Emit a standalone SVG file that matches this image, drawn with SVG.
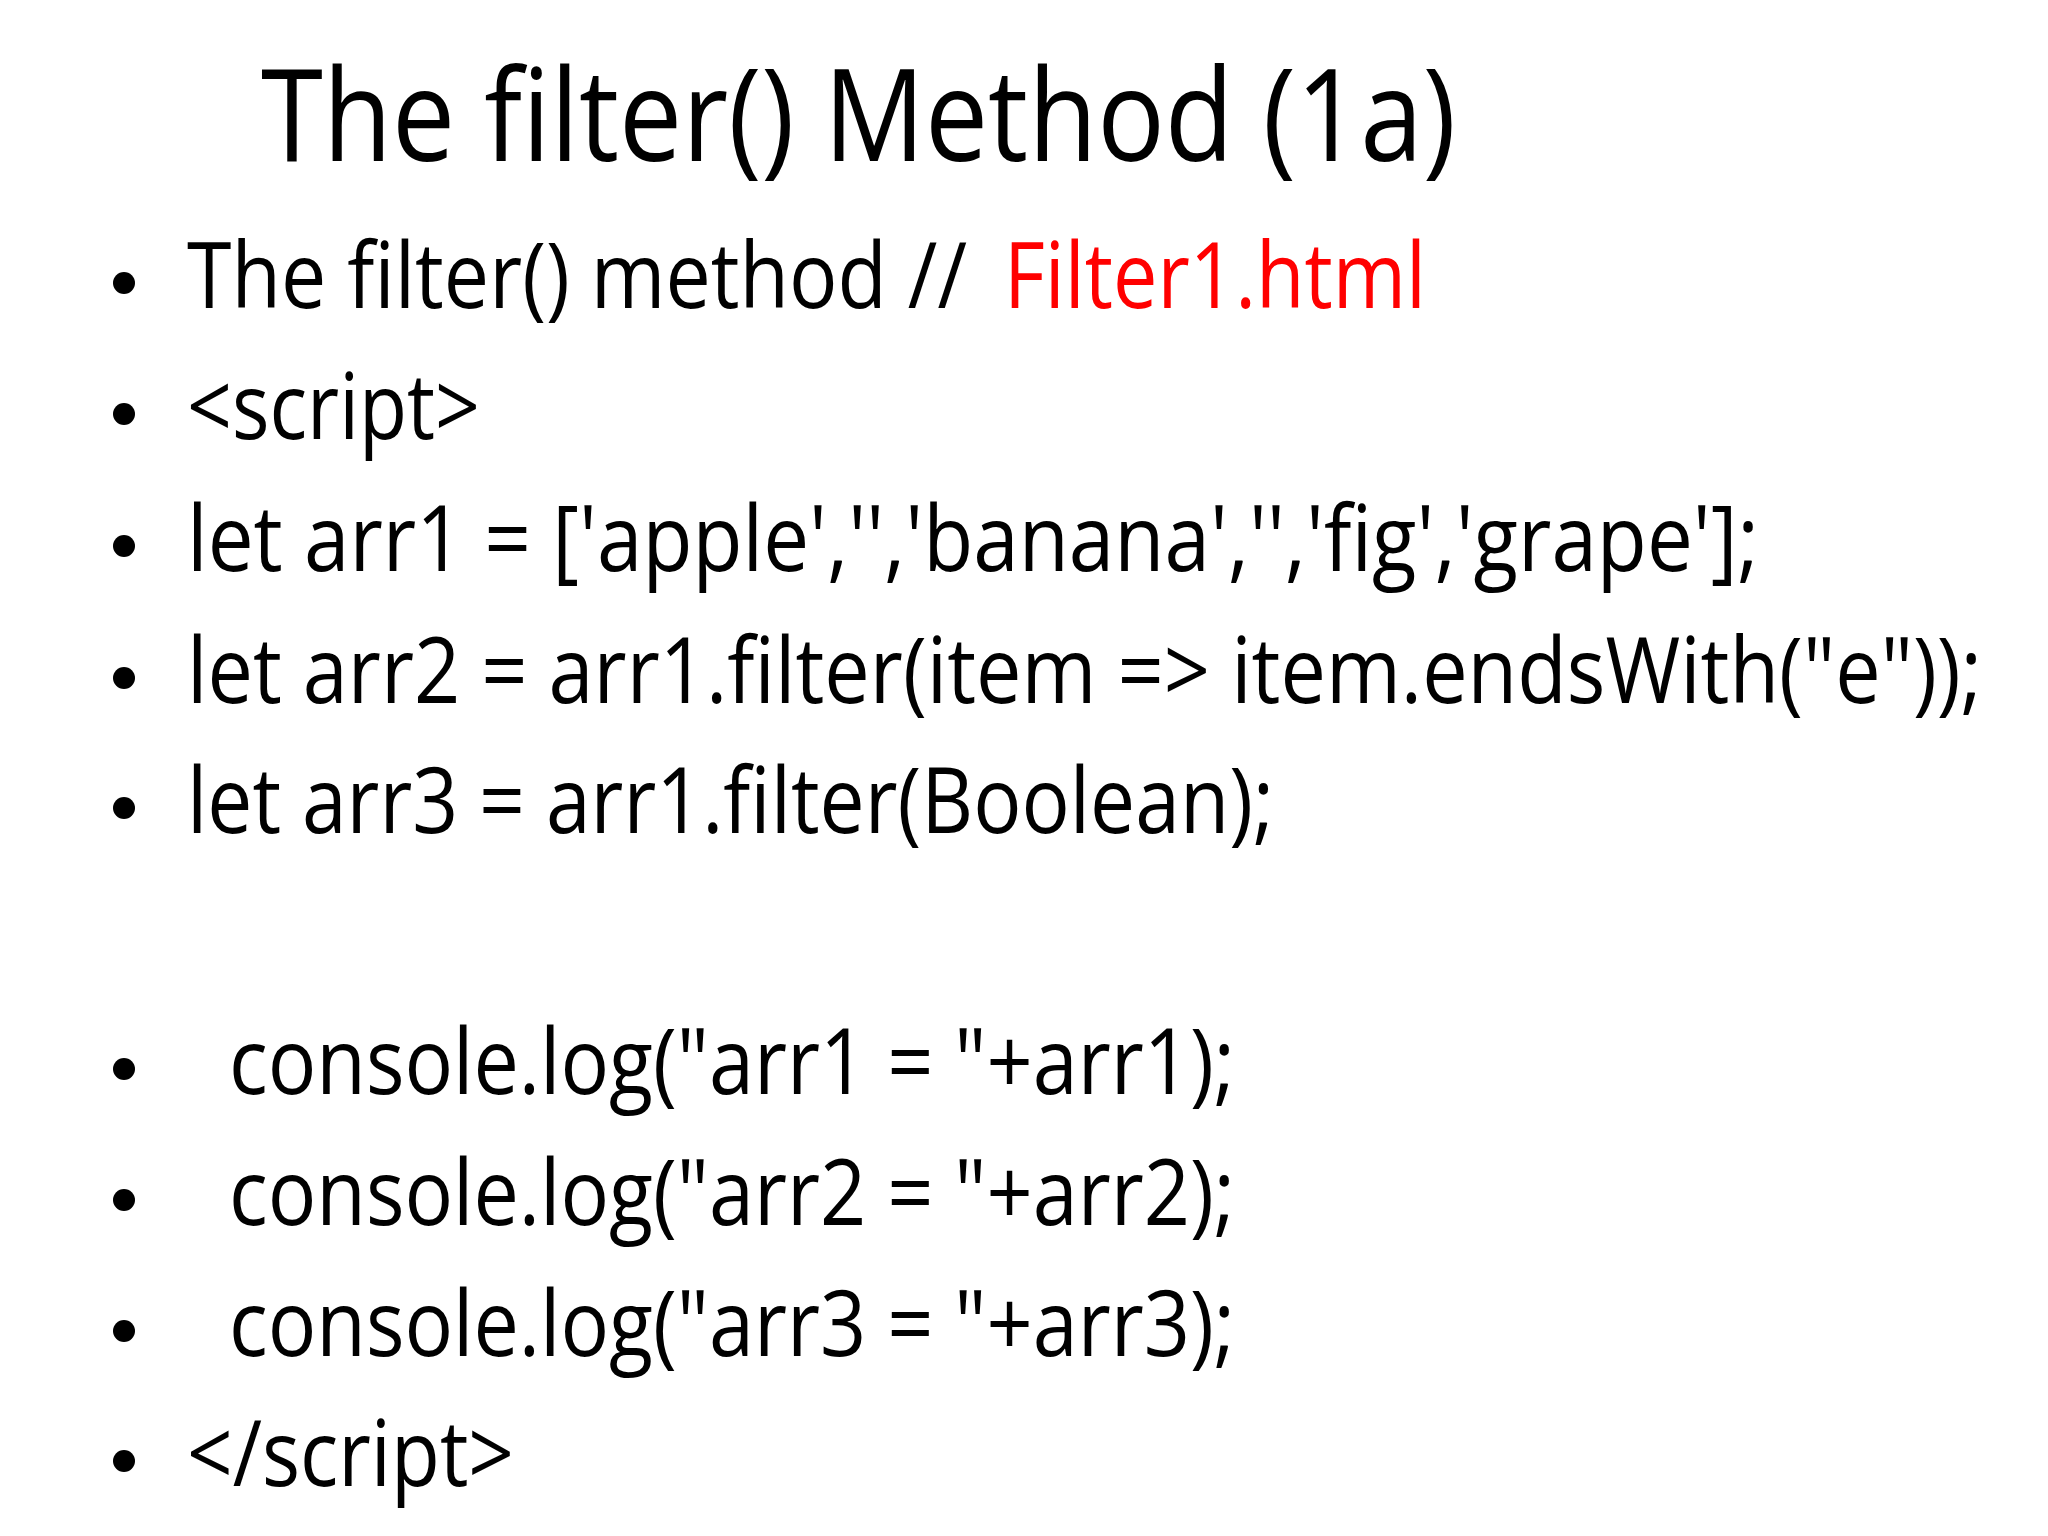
<svg xmlns="http://www.w3.org/2000/svg" width="2048" height="1536" viewBox="0 0 2048 1536">
<style>
text{font-family:"Open Sans","Liberation Sans",sans-serif;fill:#000}
.t{font-size:128px}
.b{font-size:92px}
.red{fill:#ff0000}
</style>
<rect width="2048" height="1536" fill="#fff"/>
<g id="title"><text class="t" x="261" y="161" textLength="1195" lengthAdjust="spacingAndGlyphs">The filter() Method (1a)</text></g>
<g id="bullets">
<g fill="#000"><circle cx="124" cy="283" r="11"/><circle cx="124" cy="414" r="11"/><circle cx="124" cy="546" r="11"/><circle cx="124" cy="678" r="11"/><circle cx="124" cy="808" r="11"/><circle cx="124" cy="1069" r="11"/><circle cx="124" cy="1200" r="11"/><circle cx="124" cy="1331" r="11"/><circle cx="124" cy="1461" r="11"/></g>
<text class="b" x="187" y="308" textLength="780" lengthAdjust="spacingAndGlyphs">The filter() method //</text>
<text class="b red" x="1004" y="308" textLength="422" lengthAdjust="spacingAndGlyphs">Filter1.html</text>
<text class="b" x="187" y="439" textLength="293" lengthAdjust="spacingAndGlyphs">&lt;script&gt;</text>
<text class="b" x="187" y="571" textLength="1572" lengthAdjust="spacingAndGlyphs">let arr1 = ['apple','','banana','','fig','grape'];</text>
<text class="b" x="187" y="703" textLength="1795" lengthAdjust="spacingAndGlyphs">let arr2 = arr1.filter(item =&gt; item.endsWith("e"));</text>
<text class="b" x="187" y="833" textLength="1087" lengthAdjust="spacingAndGlyphs">let arr3 = arr1.filter(Boolean);</text>
<text class="b" x="229" y="1094" textLength="1006" lengthAdjust="spacingAndGlyphs">console.log("arr1 = "+arr1);</text>
<text class="b" x="229" y="1225" textLength="1006" lengthAdjust="spacingAndGlyphs">console.log("arr2 = "+arr2);</text>
<text class="b" x="229" y="1356" textLength="1006" lengthAdjust="spacingAndGlyphs">console.log("arr3 = "+arr3);</text>
<text class="b" x="187" y="1486" textLength="327" lengthAdjust="spacingAndGlyphs">&lt;/script&gt;</text>
</g>
</svg>
